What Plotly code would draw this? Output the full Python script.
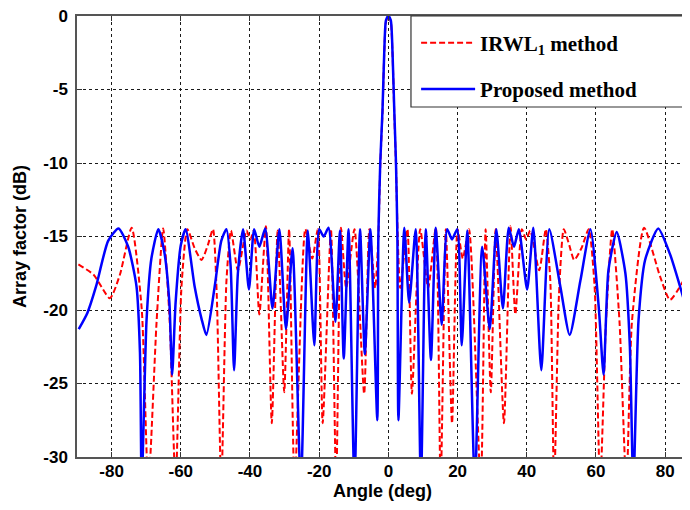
import plotly.graph_objects as go

# ---- data ----
irwl_angle = [-89.6, -85.2, -80.5, -77.6, -74.2, -71.3, -69.4, -67.0, -65.1, -63.2, -61.5, -59.8,
              -58.1, -56.0, -54.0, -52.2, -50.7, -49.6, -48.3, -46.8, -45.5, -43.5, -41.0, -39.9,
              -38.9, -37.3, -35.4, -33.7, -32.0, -30.1, -28.7, -27.1, -24.0, -22.0, -20.4, -19.0,
              -16.6, -15.1, -13.7, -12.2, -9.8, -7.0, -5.5, -3.8, -2.9, -2.35, -1.7, -1.2, -0.7,
              0.0, 0.7, 1.2, 1.7, 2.2, 2.7, 3.4, 5.5, 6.8, 9.2, 11.5, 13.7, 15.1, 16.6, 18.4, 20.0,
              21.5, 23.3, 26.7, 28.1, 29.6, 31.0, 33.4, 35.3, 36.7, 38.6, 39.8, 41.0, 43.6, 45.5,
              46.8, 47.9, 49.3, 50.7, 52.3, 53.7, 55.8, 57.9, 59.6, 61.2, 62.9, 64.7, 66.8, 68.8,
              70.4, 73.9, 78.5, 81.4, 86.7]
irwl_db = [-16.9, -17.6, -19.2, -17.6, -14.4, -19.9, -32.0, -20.8, -14.45, -20.8, -32.0, -18.4,
           -14.5, -15.8, -16.6, -15.6, -14.5, -19.0, -32.0, -18.0, -14.6, -17.3, -14.6, -15.2,
           -14.6, -20.3, -14.3, -27.7, -14.6, -25.6, -14.5, -32.0, -14.5, -16.5, -14.5, -27.7,
           -14.5, -32.0, -14.4, -18.5, -14.5, -25.7, -14.5, -18.5, -15.0, -10.2, -6.6, -2.6, -0.4,
           0.0, -0.4, -2.6, -6.6, -10.2, -15.0, -18.5, -14.5, -25.7, -14.5, -18.5, -14.4, -32.0,
           -14.5, -27.7, -14.5, -16.5, -14.5, -32.0, -14.5, -25.6, -14.5, -27.7, -14.3, -20.3,
           -14.5, -15.2, -14.6, -17.3, -14.5, -18.0, -32.0, -19.0, -14.5, -15.6, -16.6, -15.8,
           -14.5, -18.4, -32.0, -20.8, -14.5, -20.8, -32.0, -20.8, -14.4, -17.7, -19.3, -17.4]

prop_angle = [-89.5, -87.0, -84.5, -81.0, -78.0, -75.2, -72.8, -71.8, -71.3, -69.9, -68.5, -66.5,
              -64.8, -63.3, -62.5, -61.5, -60.0, -58.6, -56.0, -54.0, -52.6, -50.2, -48.3, -46.8,
              -45.6, -44.6, -43.5, -42.0, -40.3, -38.8, -37.3, -35.6, -33.5, -31.5, -29.6, -27.7,
              -25.3, -23.3, -21.4, -20.0, -18.7, -17.3, -15.3, -14.0, -12.9, -11.5, -9.8, -8.2,
              -6.8, -5.2, -3.2, -2.9, -2.35, -1.7, -1.2, -0.7, 0.0, 0.7, 1.2, 1.7, 2.2, 2.6, 2.9,
              4.6, 6.0, 7.9, 9.4, 10.8, 12.3, 13.7, 15.4, 17.0, 18.4, 19.9, 21.2, 22.8, 25.0, 27.1,
              29.3, 31.2, 33.1, 34.8, 36.3, 37.7, 40.1, 41.9, 44.2, 46.5, 49.7, 52.4, 55.5, 58.4,
              60.8, 62.2, 63.6, 66.0, 68.5, 69.8, 70.8, 72.3, 74.2, 78.0, 81.4, 84.3, 86.7]
prop_db = [-21.3, -20.2, -18.4, -15.3, -14.45, -15.7, -18.4, -22.9, -32.0, -20.7, -16.5, -14.5,
           -16.0, -19.5, -24.4, -19.5, -15.6, -14.5, -18.4, -20.6, -21.7, -18.4, -15.3, -14.5,
           -17.0, -24.1, -17.5, -14.5, -18.6, -14.5, -15.7, -14.45, -19.9, -14.5, -21.3, -15.8,
           -32.0, -14.6, -22.4, -14.5, -15.0, -14.4, -20.8, -14.6, -23.3, -14.5, -32.0, -14.5,
           -23.0, -14.5, -27.5, -15.0, -10.0, -6.4, -2.5, -0.3, 0.0, -0.3, -2.5, -6.4, -10.0,
           -15.0, -27.5, -14.4, -19.5, -14.5, -32.0, -14.5, -23.4, -14.4, -21.0, -14.5, -15.2,
           -14.5, -22.4, -14.6, -32.0, -15.7, -21.3, -14.5, -19.9, -14.4, -15.7, -14.5, -18.6,
           -14.4, -24.1, -14.5, -18.4, -21.7, -18.0, -14.5, -19.8, -24.4, -17.3, -14.7, -17.5,
           -22.5, -32.0, -20.7, -16.6, -14.45, -16.2, -18.4, -20.4]

x_ticks = [-80, -60, -40, -20, 0, 20, 40, 60, 80]
x_tick_text = ["-80", "-60", "-40", "-20", "0", "20", "40", "60", "80"]
y_ticks = [0, -5, -10, -15, -20, -25, -30]
y_tick_text = ["0", "-5", "-10", "-15", "-20", "-25", "-30"]

fig = go.Figure()
fig.add_trace(go.Scatter(
    x=irwl_angle, y=irwl_db, mode="lines", name="IRWL<sub>1</sub> method",
    legendgroup="a",
    line=dict(color="rgb(255,0,0)", width=2, dash="6px,3px", shape="spline", smoothing=0.6),
))
fig.add_trace(go.Scatter(
    x=prop_angle, y=prop_db, mode="lines", name="Proposed method",
    legendgroup="b",
    line=dict(color="rgb(0,0,255)", width=2.5, shape="spline", smoothing=0.6),
))

axis_common = dict(
    showgrid=True, gridcolor="#1a1a1a", gridwidth=1, griddash="3px,3px",
    showline=True, linecolor="#555555", linewidth=1.5, mirror="ticks",
    ticks="inside", ticklen=5, tickcolor="#333333", zeroline=False, automargin=False,
    ticklabeloverflow="allow",
    tickfont=dict(family="Arial, Liberation Sans", size=17, color="black", weight="bold"),
)

fig.update_xaxes(
    range=[-90, 86.6], tickvals=x_ticks, ticktext=x_tick_text, ticklabelstandoff=-2,
    title=dict(text="Angle (deg)", standoff=2,
               font=dict(family="Arial, Liberation Sans", size=18, color="black", weight="bold")),
    **axis_common,
)
fig.update_yaxes(
    range=[-30, 0], tickvals=y_ticks, ticktext=y_tick_text, ticklabelstandoff=4,
    title=dict(text="Array factor (dB)", standoff=12,
               font=dict(family="Arial, Liberation Sans", size=18, color="black", weight="bold")),
    **axis_common,
)

fig.add_shape(type="rect", xref="paper", yref="paper", x0=0.5466, x1=1.0, y0=0.7937, y1=1.0,
              line=dict(color="#333333", width=1.2), fillcolor="white", layer="above")

# the page body adds an 8 px offset, so the margins are shifted to compensate
fig.update_layout(
    width=690, height=510,
    margin=dict(l=69, r=10, t=8, b=61),
    paper_bgcolor="white", plot_bgcolor="white",
    legend=dict(x=0.555, y=0.985, xanchor="left", yanchor="top",
                bgcolor="rgba(0,0,0,0)", borderwidth=0, traceorder="grouped",
                tracegroupgap=16, itemwidth=54,
                font=dict(family="Times New Roman, Liberation Serif", size=21, color="black",
                          weight="bold")),
    showlegend=True,
)

fig.write_html("out.html")
